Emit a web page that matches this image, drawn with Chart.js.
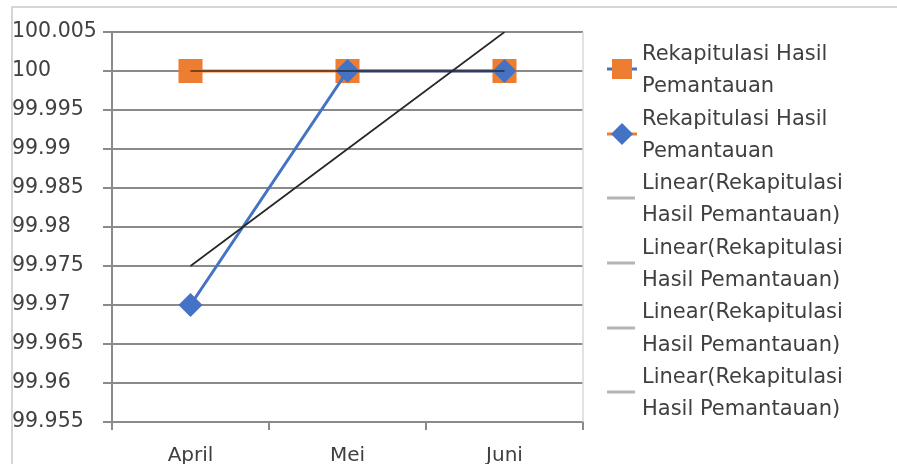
<!DOCTYPE html>
<html>
<head>
<meta charset="utf-8">
<title>Rekapitulasi Hasil Pemantauan</title>
<script src="https://cdn.jsdelivr.net/npm/chart.js@4/dist/chart.umd.min.js"></script>
<style>
  html, body { margin: 0; padding: 0; background: #fff; }
  #wrap { position: relative; width: 897px; height: 464px; overflow: hidden; }
  #frame { position: absolute; left: 11px; top: 6px; width: 900px; height: 470px;
           border-top: 2px solid #d6d6d6; border-left: 2px solid #d6d6d6; pointer-events: none; }
  canvas { position: absolute; left: 0; top: 0; }
  #legend { position: absolute; left: 605px; top: 37px; font-family: 'DejaVu Sans', sans-serif;
            font-size: 21px; color: #404040; line-height: 32.3px; }
  .item { display: flex; align-items: center; height: 64.6px; }
  .sym { width: 37px; flex: none; }
  .sym svg { display: block; }
  .txt { white-space: nowrap; }
</style>
</head>
<body>
<div id="wrap">
  <canvas id="chart" width="897" height="464"></canvas>
  <div id="frame"></div>
  <div id="legend"></div>
</div>
<script>
// Months on the category axis
const months = ['April', 'Mei', 'Juni'];

// Monitoring results (percent)
const hasilSquare = [100, 100, 100];
const hasilDiamond = [99.97, 100, 100];

// Linear trend lines of the two series
const trendSquare = [100, 100, 100];
const trendDiamond = [99.975, 99.99, 100.005];

// Value axis ticks
const yTicks = [99.955, 99.96, 99.965, 99.97, 99.975, 99.98, 99.985, 99.99, 99.995, 100, 100.005];

// Legend text, one entry per drawn series
const seriesName = 'Rekapitulasi Hasil';
const seriesName2 = 'Pemantauan';
const trendName = 'Linear(Rekapitulasi';
const trendName2 = 'Hasil Pemantauan)';

const ORANGE = '#ED7D31';
const BLUE = '#4472C4';
const GRID = '#8a8a8a';
const TEXT = '#404040';

// light border on the right side of the plot area
const plotEdge = {
  id: 'plotEdge',
  beforeDatasetsDraw(chart) {
    const { ctx, chartArea } = chart;
    ctx.save();
    ctx.strokeStyle = '#d9d9d9';
    ctx.lineWidth = 1.5;
    ctx.beginPath();
    ctx.moveTo(chartArea.right, chartArea.top);
    ctx.lineTo(chartArea.right, chartArea.bottom);
    ctx.stroke();
    ctx.restore();
  }
};

new Chart(document.getElementById('chart'), {
  type: 'line',
  data: {
    labels: months,
    datasets: [
      {
        label: 'Linear(Rekapitulasi Hasil Pemantauan)',
        data: trendDiamond,
        borderColor: '#262626',
        borderWidth: 1.7,
        pointRadius: 0,
        fill: false,
        order: 0
      },
      {
        label: 'Linear(Rekapitulasi Hasil Pemantauan)',
        data: trendSquare,
        borderColor: 'rgba(30,20,10,0.55)',
        borderWidth: 2,
        pointRadius: 0,
        fill: false,
        order: 1
      },
      {
        label: 'Rekapitulasi Hasil Pemantauan',
        data: hasilDiamond,
        borderColor: BLUE,
        backgroundColor: BLUE,
        borderWidth: 3,
        pointStyle: 'rectRot',
        pointRadius: 12,
        pointBorderWidth: 0,
        pointBackgroundColor: BLUE,
        fill: false,
        order: 2
      },
      {
        label: 'Rekapitulasi Hasil Pemantauan',
        data: hasilSquare,
        borderColor: ORANGE,
        backgroundColor: ORANGE,
        borderWidth: 3,
        pointStyle: 'rect',
        pointRadius: 17,
        pointBorderWidth: 0,
        pointBackgroundColor: ORANGE,
        fill: false,
        order: 3
      }
    ]
  },
  options: {
    responsive: false,
    animation: false,
    devicePixelRatio: 1,
    layout: { padding: { left: 12, right: 314, top: 32, bottom: 0 } },
    plugins: { legend: { display: false }, tooltip: { enabled: false } },
    elements: { line: { tension: 0 } },
    scales: {
      x: {
        type: 'category',
        offset: true,
        grid: { offset: true, drawOnChartArea: false, drawTicks: true, tickLength: 8, color: GRID, lineWidth: 2 },
        border: { display: true, color: GRID, width: 2 },
        ticks: { color: TEXT, font: { family: 'DejaVu Sans', size: 20 }, padding: 14, maxRotation: 0 },
        afterFit(scale) { scale.height = 42; }
      },
      y: {
        type: 'linear',
        min: yTicks[0],
        max: yTicks[yTicks.length - 1],
        afterBuildTicks(scale) { scale.ticks = yTicks.map(v => ({ value: v })); },
        grid: { color: GRID, lineWidth: 2, drawTicks: true, tickLength: 9 },
        border: { display: true, color: GRID, width: 2 },
        ticks: {
          color: TEXT,
          crossAlign: 'far',
          font: { family: 'DejaVu Sans', size: 20.5 },
          callback: v => String(v)
        },
        afterFit(scale) { scale.width = 100; }
      }
    }
  },
  plugins: [plotEdge]
});

// HTML legend: symbol + two-line label per entry
const legendItems = [
  { kind: 'square', fill: ORANGE, stub: BLUE, lines: [seriesName, seriesName2] },
  { kind: 'diamond', fill: BLUE, stub: ORANGE, lines: [seriesName, seriesName2] },
  { kind: 'line', stub: '#b4b4b4', lines: [trendName, trendName2] },
  { kind: 'line', stub: '#b4b4b4', lines: [trendName, trendName2] },
  { kind: 'line', stub: '#b4b4b4', lines: [trendName, trendName2] },
  { kind: 'line', stub: '#b4b4b4', lines: [trendName, trendName2] }
];

function symbolSvg(item) {
  let s = '<svg width="34" height="26" viewBox="0 0 34 26">';
  if (item.kind === 'line') {
    s += '<line x1="2" y1="13" x2="30" y2="13" stroke="' + item.stub + '" stroke-width="3"/>';
  } else {
    s += '<line x1="2" y1="13" x2="32" y2="13" stroke="' + item.stub + '" stroke-width="3"/>';
    if (item.kind === 'square') {
      s += '<rect x="7" y="3" width="20" height="20" fill="' + item.fill + '"/>';
    } else {
      s += '<polygon points="17,2 28,13 17,24 6,13" fill="' + item.fill + '"/>';
    }
  }
  return s + '</svg>';
}

const legendEl = document.getElementById('legend');
legendItems.forEach(item => {
  const row = document.createElement('div');
  row.className = 'item';
  const sym = document.createElement('div');
  sym.className = 'sym';
  sym.innerHTML = symbolSvg(item);
  const txt = document.createElement('div');
  txt.className = 'txt';
  item.lines.forEach((ln, i) => {
    if (i) txt.appendChild(document.createElement('br'));
    txt.appendChild(document.createTextNode(ln));
  });
  row.appendChild(sym);
  row.appendChild(txt);
  legendEl.appendChild(row);
});
</script>
</body>
</html>
